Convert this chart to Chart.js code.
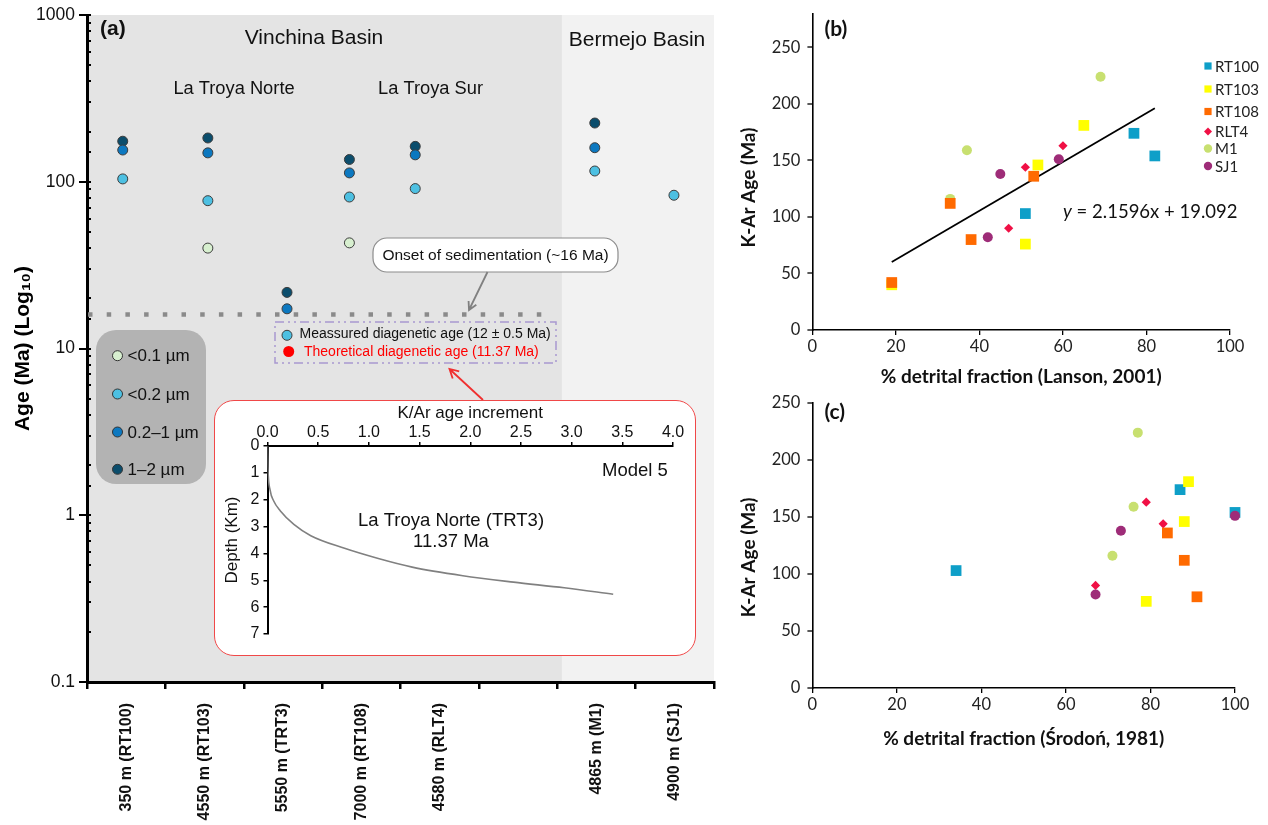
<!DOCTYPE html>
<html>
<head>
<meta charset="utf-8">
<script src="https://cdn.jsdelivr.net/npm/chart.js@4"></script>
<style>
  html, body { margin: 0; padding: 0; background: #fff; }
  #page { position: relative; width: 1268px; height: 825px; overflow: hidden; }
  canvas { position: absolute; }
  #insetBox {
    position: absolute; left: 214px; top: 400px; width: 482px; height: 256px;
    box-sizing: border-box; border: 1.5px solid #f04848; border-radius: 20px; background: #fff;
  }
</style>
</head>
<body>
<div id="page">
  <canvas id="chartA" width="730" height="825" style="left:0;top:0"></canvas>
  <div id="insetBox"></div>
  <canvas id="chartInset" width="482" height="256" style="left:214px;top:400px"></canvas>
  <canvas id="chartB" width="538" height="390" style="left:730px;top:0"></canvas>
  <canvas id="chartC" width="538" height="370" style="left:730px;top:390px"></canvas>
</div>
<script>
// ---------- panel (a) : K-Ar ages per size fraction ----------
const siteLabels = ['350 m (RT100)', '4550 m (RT103)', '5550 m (TRT3)', '7000 m (RT108)', '4580 m (RLT4)', '', '4865 m (M1)', '4900 m (SJ1)']
const samplePos = [0.456, 1.542, 2.552, 3.348, 4.188, 6.479, 7.489]   // RT100 RT103 TRT3 RT108 RLT4 M1 SJ1
const ageLt01 = [null, 40, null, 43, null, null, null]
const ageLt02 = [104, 77, 12, 81, 91, 116, 83]
const age02to1 = [155, 149, 17.3, 113, 145, 160, null]
const age1to2 = [175, 183, 21.7, 136, 163, 225, null]
const fractionLabels = ['<0.1 µm', '<0.2 µm', '0.2–1 µm', '1–2 µm']
const onsetAge = 16
const basinSplit = 6.06
const onsetLineEnd = 5.95

// inset : K/Ar age increment vs depth (Model 5)
const incAge = [0, 0.004, 0.027, 0.06, 0.127, 0.26, 0.427, 0.76, 1.093, 1.427, 1.927, 2.427, 2.927, 3.41]
const depthKm = [0, 0.77, 1.66, 2.04, 2.42, 2.92, 3.34, 3.81, 4.19, 4.51, 4.83, 5.07, 5.28, 5.52]

// ---------- panels (b) and (c) ----------
const sampleIds = ['RT100', 'RT103', 'RT108', 'RLT4', 'M1', 'SJ1']
const agesRT100 = [174, 154, 103]
const agesRT103 = [181, 146, 76, 40]
const agesRT108 = [136, 112, 80, 42]
const agesRLT4 = [163, 144, 90]
const agesM1 = [224, 159, 116]
const agesSJ1 = [151, 138, 82]
// % detrital fraction (Lanson, 2001)
const lansonRT100 = [77, 82, 51]
const lansonRT103 = [65, 54, 51, 19]
const lansonRT108 = [53, 33, 38, 19]
const lansonRLT4 = [60, 51, 47]
const lansonM1 = [69, 37, 33]
const lansonSJ1 = [59, 45, 42]
// % detrital fraction (Środoń, 1981)
const srodonRT100 = [87, 100, 34]
const srodonRT103 = [89, 88, 79, null]
const srodonRT108 = [84, 88, 91, null]
const srodonRLT4 = [79, 83, 67]
const srodonM1 = [77, 76, 71]
const srodonSJ1 = [100, 73, 67]
const regSlope = 2.1596
const regIntercept = 19.092
const regRange = [19, 82]

const sansA = "'Liberation Sans', Arial, sans-serif"
const sansB = "Lato, 'Open Sans', sans-serif"
Chart.defaults.font.family = sansA
Chart.defaults.color = '#111'

const fractionColors = ['#d7efcf', '#4dc0e2', '#0c78c0', '#0b4d6c']
const sampleStyle = {
  RT100: { color: '#0e9fc8', shape: 'rect', r: 7.6 },
  RT103: { color: '#ffff00', shape: 'rect', r: 7.6 },
  RT108: { color: '#ff6a00', shape: 'rect', r: 7.6 },
  RLT4: { color: '#f01045', shape: 'rectRot', r: 4.6 },
  M1: { color: '#c8e070', shape: 'circle', r: 5 },
  SJ1: { color: '#9e2c78', shape: 'circle', r: 5 }
}
const stackOrder = { RT108: 1, SJ1: 2, RLT4: 3, M1: 4, RT103: 5, RT100: 6 }
const hiddenTick = 'rgba(0,0,0,0)'

function roundRect(ctx, x, y, w, h, r) {
  ctx.beginPath()
  ctx.moveTo(x + r, y)
  ctx.arcTo(x + w, y, x + w, y + h, r)
  ctx.arcTo(x + w, y + h, x, y + h, r)
  ctx.arcTo(x, y + h, x, y, r)
  ctx.arcTo(x, y, x + w, y, r)
  ctx.closePath()
}

function arrow(ctx, x1, y1, x2, y2, color, size) {
  const a = Math.atan2(y2 - y1, x2 - x1)
  ctx.strokeStyle = color
  ctx.lineWidth = 1.8
  ctx.beginPath()
  ctx.moveTo(x1, y1)
  ctx.lineTo(x2, y2)
  ctx.moveTo(x2 - size * Math.cos(a - 0.5), y2 - size * Math.sin(a - 0.5))
  ctx.lineTo(x2, y2)
  ctx.lineTo(x2 - size * Math.cos(a + 0.5), y2 - size * Math.sin(a + 0.5))
  ctx.stroke()
}

function text(ctx, str, x, y, font, color, align) {
  ctx.font = font
  ctx.fillStyle = color || '#111'
  ctx.textAlign = align || 'center'
  ctx.textBaseline = 'middle'
  ctx.fillText(str, x, y)
}

const isDecade = v => Math.abs(Math.log10(v) - Math.round(Math.log10(v))) < 1e-6
const toPoints = (xs, ys) => xs.map((x, i) => ({ x, y: ys[i] })).filter(p => p.x != null && p.y != null)

// y tick marks drawn by hand so the label gap does not push the plot area down
function drawYTicks(chart, outer, inner, lineWidth, majorOnly) {
  const { ctx, chartArea: ca, scales: { y } } = chart
  ctx.save()
  ctx.strokeStyle = '#000'
  ctx.lineWidth = lineWidth
  y.ticks.forEach(t => {
    const py = Math.round(y.getPixelForValue(t.value))
    const major = majorOnly || isDecade(t.value)
    ctx.beginPath()
    ctx.moveTo(major ? ca.left - outer : ca.left, py)
    ctx.lineTo(ca.left + inner, py)
    ctx.stroke()
  })
  ctx.restore()
}

// ---------- chart (a) ----------
const panelAPlugin = {
  id: 'panelA',
  beforeDraw(chart) {
    const { ctx, chartArea: ca, scales: { x } } = chart
    const xs = x.getPixelForValue(basinSplit)
    ctx.save()
    ctx.fillStyle = '#e4e4e4'
    ctx.fillRect(ca.left, ca.top, xs - ca.left, ca.bottom - ca.top)
    ctx.fillStyle = '#f2f2f2'
    ctx.fillRect(xs, ca.top, ca.right - xs, ca.bottom - ca.top)
    ctx.restore()
  },
  beforeDatasetsDraw(chart) {
    const { ctx, chartArea: ca, scales: { x, y } } = chart
    const yy = y.getPixelForValue(onsetAge)
    ctx.save()
    ctx.strokeStyle = '#8a8a8a'
    ctx.lineWidth = 4.5
    ctx.setLineDash([4.5, 14.2])
    ctx.beginPath()
    ctx.moveTo(ca.left + 1, yy)
    ctx.lineTo(x.getPixelForValue(onsetLineEnd), yy)
    ctx.stroke()
    ctx.restore()
  },
  afterDatasetsDraw(chart) {
    const ctx = chart.ctx
    ctx.save()
    text(ctx, '(a)', 100, 29, 'bold 21px ' + sansA, '#111', 'left')
    text(ctx, 'Vinchina Basin', 314, 38.5, '21px ' + sansA)
    text(ctx, 'Bermejo Basin', 637, 40, '21px ' + sansA)
    text(ctx, 'La Troya Norte', 234, 88.5, '18.3px ' + sansA)
    text(ctx, 'La Troya Sur', 430.5, 88.5, '18.3px ' + sansA)

    // size-fraction legend
    ctx.fillStyle = '#b3b3b3'
    roundRect(ctx, 96, 330, 110, 154, 20)
    ctx.fill()
    const legY = [355.7, 394, 432, 469.3]
    fractionLabels.forEach((lab, i) => {
      ctx.beginPath()
      ctx.arc(117.5, legY[i], 5, 0, Math.PI * 2)
      ctx.fillStyle = fractionColors[i]
      ctx.fill()
      ctx.strokeStyle = '#333'
      ctx.lineWidth = 1
      ctx.stroke()
      text(ctx, lab, 127.5, legY[i] + 1, '17px ' + sansA, '#111', 'left')
    })

    // onset callout
    ctx.fillStyle = '#fff'
    roundRect(ctx, 373, 238, 245, 34, 14)
    ctx.fill()
    ctx.strokeStyle = '#8c8c8c'
    ctx.lineWidth = 1.2
    ctx.stroke()
    text(ctx, 'Onset of sedimentation (~16 Ma)', 495.5, 255.5, '15.5px ' + sansA)
    arrow(ctx, 487.5, 272, 469, 310, '#808080', 9)

    // diagenetic age box
    ctx.setLineDash([9, 4, 2, 4, 2, 4])
    ctx.strokeStyle = '#a898d0'
    ctx.lineWidth = 1.5
    ctx.strokeRect(275, 322, 281, 41)
    ctx.setLineDash([])
    text(ctx, 'Meassured diagenetic age (12 ± 0.5 Ma)', 299.5, 334.5, '14px ' + sansA, '#111', 'left')
    ctx.beginPath()
    ctx.arc(288.7, 351.5, 5.5, 0, Math.PI * 2)
    ctx.fillStyle = '#ff0000'
    ctx.fill()
    text(ctx, 'Theoretical diagenetic age (11.37 Ma)', 304, 352, '14px ' + sansA, '#ff0000', 'left')
    arrow(ctx, 483, 400, 449.5, 369, '#f03030', 10)
    ctx.restore()
  },
  afterDraw(chart) {
    drawYTicks(chart, 8, 4, 2, false)
  }
}

const fractionSeries = [ageLt01, ageLt02, age02to1, age1to2]
new Chart(document.getElementById('chartA'), {
  type: 'scatter',
  data: {
    datasets: fractionSeries.map((vals, i) => ({
      label: fractionLabels[i],
      data: toPoints(samplePos, vals),
      backgroundColor: fractionColors[i],
      borderColor: '#3d3d3d',
      borderWidth: 1,
      pointRadius: 5,
      order: i === 3 ? 4 : i
    }))
  },
  options: {
    responsive: false,
    animation: false,
    layout: { padding: { left: 0, right: 16, top: 15, bottom: 0 } },
    plugins: { legend: { display: false }, tooltip: { enabled: false } },
    scales: {
      x: { type: 'linear', min: 0, max: 8, display: false },
      xCat: {
        type: 'category',
        position: 'bottom',
        labels: siteLabels,
        offset: true,
        grid: { offset: true, drawOnChartArea: false, tickLength: 7, color: '#000', lineWidth: 2.5 },
        border: { color: '#000', width: 3 },
        ticks: { minRotation: 90, maxRotation: 90, autoSkip: false, padding: 14, color: '#111', font: { size: 16, weight: 'bold' } },
        afterFit: s => { s.height = 143 }
      },
      y: {
        type: 'logarithmic',
        min: 0.1,
        max: 1000,
        grid: { display: true, drawOnChartArea: false, tickLength: 12, tickColor: hiddenTick },
        border: { color: '#000', width: 3 },
        ticks: {
          autoSkip: false,
          padding: 0,
          color: '#111',
          font: { size: 17.5 },
          callback: v => isDecade(v) ? String(+v.toPrecision(3)) : ''
        },
        title: { display: true, text: 'Age (Ma) (Log₁₀)', color: '#000', font: { size: 21, weight: 'bold' }, padding: { top: 11, bottom: 0 } },
        afterFit: s => { s.width = 87 }
      }
    }
  },
  plugins: [panelAPlugin]
})

// ---------- inset ----------
const insetTextPlugin = {
  id: 'insetText',
  afterDraw(chart) {
    const ctx = chart.ctx
    ctx.save()
    text(ctx, 'Model 5', 421, 70.5, '18.5px ' + sansA)
    text(ctx, 'La Troya Norte (TRT3)', 237, 121, '18.5px ' + sansA)
    text(ctx, '11.37 Ma', 237, 141.5, '18.5px ' + sansA)
    ctx.restore()
  }
}

new Chart(document.getElementById('chartInset'), {
  type: 'line',
  data: {
    datasets: [{
      data: toPoints(incAge, depthKm),
      borderColor: '#808080',
      borderWidth: 1.6,
      pointRadius: 0,
      cubicInterpolationMode: 'monotone',
      fill: false
    }]
  },
  options: {
    responsive: false,
    animation: false,
    layout: { padding: { left: 0, right: 23, top: 0, bottom: 22 } },
    plugins: { legend: { display: false }, tooltip: { enabled: false } },
    scales: {
      x: {
        type: 'linear', position: 'top', min: 0, max: 4,
        grid: { drawOnChartArea: false, tickLength: 4, color: '#000', lineWidth: 1.5 },
        border: { color: '#000', width: 2 },
        ticks: { stepSize: 0.5, padding: 0, color: '#111', font: { size: 16 }, callback: v => v.toFixed(1) },
        title: { display: true, text: 'K/Ar age increment', color: '#111', font: { size: 17 }, padding: { top: 3, bottom: 0 } },
        afterFit: s => { s.height = 46 }
      },
      y: {
        type: 'linear', reverse: true, min: 0, max: 7,
        grid: { drawOnChartArea: false, tickLength: 4, color: '#000', lineWidth: 1.5 },
        border: { color: '#000', width: 2 },
        ticks: { stepSize: 1, padding: 4, color: '#111', font: { size: 16 } },
        title: { display: true, text: 'Depth (Km)', color: '#111', font: { size: 17 }, padding: { top: 8, bottom: 0 } },
        afterFit: s => { s.width = 53.5 }
      }
    }
  },
  plugins: [insetTextPlugin]
})

// ---------- charts (b) and (c) ----------
const agesById = { RT100: agesRT100, RT103: agesRT103, RT108: agesRT108, RLT4: agesRLT4, M1: agesM1, SJ1: agesSJ1 }
const lansonById = { RT100: lansonRT100, RT103: lansonRT103, RT108: lansonRT108, RLT4: lansonRLT4, M1: lansonM1, SJ1: lansonSJ1 }
const srodonById = { RT100: srodonRT100, RT103: srodonRT103, RT108: srodonRT108, RLT4: srodonRLT4, M1: srodonM1, SJ1: srodonSJ1 }

function sampleDatasets(xById) {
  return sampleIds.map(id => ({
    label: id,
    data: toPoints(xById[id], agesById[id]),
    pointStyle: sampleStyle[id].shape,
    pointRadius: sampleStyle[id].r,
    backgroundColor: sampleStyle[id].color,
    borderColor: sampleStyle[id].color,
    borderWidth: 0,
    clip: false,
    order: stackOrder[id]
  }))
}

function drawMarker(ctx, shape, x, y, s, color) {
  ctx.fillStyle = color
  ctx.beginPath()
  if (shape === 'rect') ctx.rect(x - s, y - s, 2 * s, 2 * s)
  else if (shape === 'rectRot') { ctx.moveTo(x, y - s); ctx.lineTo(x + s, y); ctx.lineTo(x, y + s); ctx.lineTo(x - s, y); ctx.closePath() }
  else ctx.arc(x, y, s, 0, Math.PI * 2)
  ctx.fill()
}

function panelDecor(tag, tagY, yTitleY, extra) {
  return {
    id: 'decor' + tag,
    afterDraw(chart) {
      drawYTicks(chart, 5, 0, 1.3, true)
      const ctx = chart.ctx
      ctx.save()
      text(ctx, tag, 94.4, tagY, 'bold 21px ' + sansB, '#111', 'left')
      ctx.translate(19, yTitleY)
      ctx.rotate(-Math.PI / 2)
      text(ctx, 'K-Ar Age (Ma)', 0, 0, 'bold 19px ' + sansB, '#111')
      ctx.restore()
      if (extra) extra(chart)
    }
  }
}

function scatterOptions(xTitle, yMax, padRight, xHeight, titlePadBottom, padTop) {
  return {
    responsive: false,
    animation: false,
    layout: { padding: { left: 0, right: padRight, top: padTop, bottom: 0 } },
    plugins: { legend: { display: false }, tooltip: { enabled: false } },
    scales: {
      x: {
        type: 'linear', min: 0, max: 100,
        grid: { drawOnChartArea: false, tickLength: 5, color: '#000', lineWidth: 1.3 },
        border: { color: '#000', width: 1.6 },
        ticks: { stepSize: 20, padding: 2, color: '#222', font: { size: 16.5, family: sansB } },
        title: { display: true, text: xTitle, color: '#111', font: { size: 19, weight: 'bold', family: sansB }, padding: { top: 0, bottom: titlePadBottom } },
        afterFit: s => { s.height = xHeight }
      },
      y: {
        type: 'linear', min: 0, max: yMax,
        afterBuildTicks: s => { s.ticks = s.ticks.filter(t => t.value <= 250) },
        grid: { drawOnChartArea: false, tickLength: 12, tickColor: hiddenTick },
        border: { color: '#000', width: 1.6 },
        ticks: { stepSize: 50, padding: 0, color: '#222', font: { size: 16.5, family: sansB } },
        afterFit: s => { s.width = 82.4 }
      }
    }
  }
}

const legendAndEquation = chart => {
  const ctx = chart.ctx
  ctx.save()
  const legY = [66, 89, 111.5, 131.5, 148.5, 166]
  sampleIds.forEach((id, i) => {
    const st = sampleStyle[id]
    const s = st.shape === 'rect' ? 3.6 : st.shape === 'rectRot' ? 4 : 4.2
    drawMarker(ctx, st.shape, 478, legY[i], s, st.color)
    text(ctx, id, 485, legY[i] + 1, '15px ' + sansB, '#222', 'left')
  })
  ctx.font = 'italic 18.5px ' + sansB
  const wy = ctx.measureText('y').width
  text(ctx, 'y', 333, 212, 'italic 18.5px ' + sansB, '#111', 'left')
  text(ctx, ' = ' + regSlope + 'x + ' + regIntercept, 333 + wy, 212, '18.5px ' + sansB, '#111', 'left')
  ctx.restore()
}

new Chart(document.getElementById('chartB'), {
  type: 'scatter',
  data: {
    datasets: sampleDatasets(lansonById).concat([{
      label: 'fit',
      data: regRange.map(x => ({ x, y: regSlope * x + regIntercept })),
      showLine: true,
      borderColor: '#000',
      borderWidth: 1.8,
      pointRadius: 0,
      order: 10
    }])
  },
  options: scatterOptions('% detrital fraction (Lanson, 2001)', 280, 38, 60, 2, 13.5),
  plugins: [panelDecor('(b)', 29.2, 187.5, legendAndEquation)]
})

new Chart(document.getElementById('chartC'), {
  type: 'scatter',
  data: { datasets: sampleDatasets(srodonById) },
  options: scatterOptions('% detrital fraction (Środoń, 1981)', 250, 33, 72, 10, 13),
  plugins: [panelDecor('(c)', 22.3, 167.3)]
})
</script>
</body>
</html>
